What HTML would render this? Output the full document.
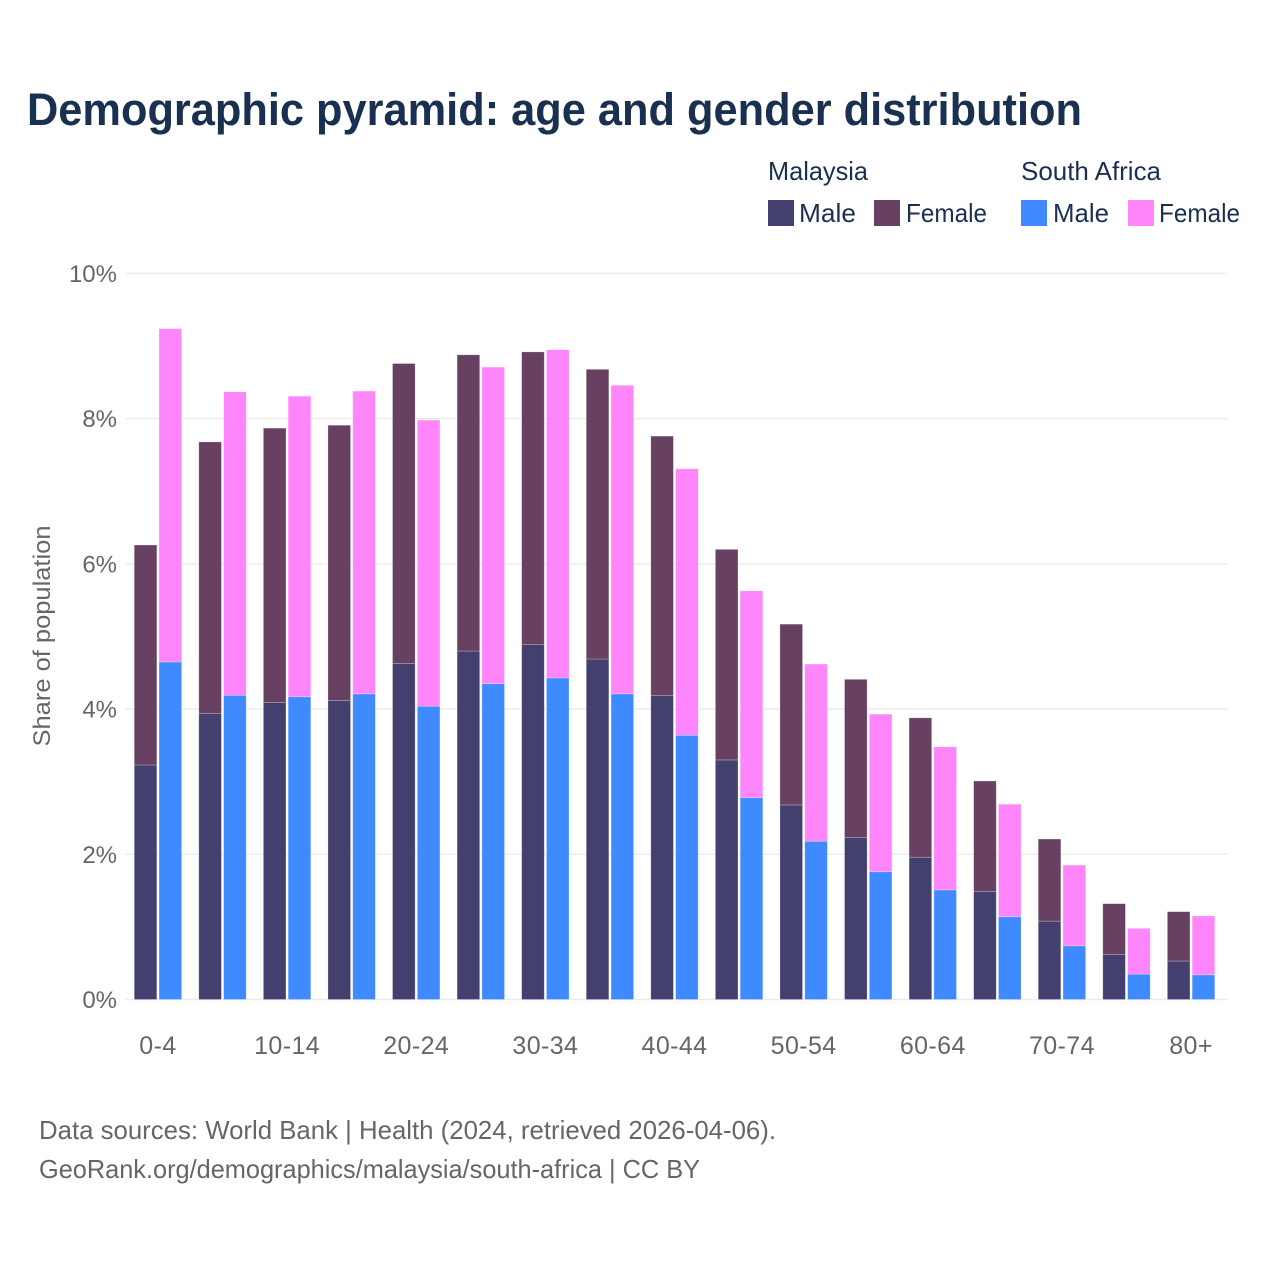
<!DOCTYPE html>
<html>
<head>
<meta charset="utf-8">
<title>Demographic pyramid</title>
<style>
html,body{margin:0;padding:0;background:#fff;}
svg{display:block;}
text{font-family:"Liberation Sans",sans-serif;}
</style>
</head>
<body>
<svg id="chart" width="1280" height="1280" viewBox="0 0 1280 1280" xmlns="http://www.w3.org/2000/svg">
  <rect x="0" y="0" width="1280" height="1280" fill="#ffffff"/>
  <text x="27" y="125" font-size="45" font-weight="700" fill="#1a3050" textLength="1055" lengthAdjust="spacingAndGlyphs">Demographic pyramid: age and gender distribution</text>

  <g font-size="26" fill="#1a3050">
    <text x="768" y="180" textLength="100" lengthAdjust="spacingAndGlyphs">Malaysia</text>
    <rect x="768" y="200" width="26" height="26" fill="#434070"/>
    <text x="799" y="222" textLength="57" lengthAdjust="spacingAndGlyphs">Male</text>
    <rect x="874" y="200" width="26" height="26" fill="#674062"/>
    <text x="906" y="222" textLength="81" lengthAdjust="spacingAndGlyphs">Female</text>
    <text x="1021" y="180" textLength="140" lengthAdjust="spacingAndGlyphs">South Africa</text>
    <rect x="1021" y="200" width="26" height="26" fill="#408aff"/>
    <text x="1053" y="222" textLength="56" lengthAdjust="spacingAndGlyphs">Male</text>
    <rect x="1128" y="200" width="26" height="26" fill="#ff85fa"/>
    <text x="1159" y="222" textLength="81" lengthAdjust="spacingAndGlyphs">Female</text>
  </g>

  <g id="grid"></g>
  <g id="yticks"></g>
  <g id="bars"></g>
  <g id="xticks"></g>

  <text transform="translate(50 636) rotate(-90)" text-anchor="middle" font-size="24" fill="#666666" textLength="221" lengthAdjust="spacingAndGlyphs">Share of population</text>

  <text x="39" y="1139" font-size="26" fill="#666666" textLength="737" lengthAdjust="spacingAndGlyphs">Data sources: World Bank | Health (2024, retrieved 2026-04-06).</text>
  <text x="39" y="1178" font-size="26" fill="#666666" textLength="661" lengthAdjust="spacingAndGlyphs">GeoRank.org/demographics/malaysia/south-africa | CC BY</text>
</svg>
<script>
var categories = ["0-4","5-9","10-14","15-19","20-24","25-29","30-34","35-39","40-44","45-49","50-54","55-59","60-64","65-69","70-74","75-79","80+"];
var malaysiaMale = [3.23,3.94,4.09,4.12,4.63,4.80,4.89,4.69,4.19,3.30,2.68,2.23,1.96,1.49,1.08,0.62,0.53];
var malaysiaFemale = [3.03,3.74,3.78,3.79,4.13,4.08,4.03,3.99,3.57,2.90,2.49,2.18,1.92,1.52,1.13,0.70,0.68];
var southAfricaMale = [4.65,4.19,4.17,4.21,4.04,4.35,4.43,4.21,3.64,2.78,2.18,1.76,1.51,1.14,0.74,0.35,0.34];
var southAfricaFemale = [4.59,4.18,4.14,4.17,3.94,4.36,4.52,4.25,3.67,2.85,2.44,2.17,1.97,1.55,1.11,0.63,0.81];
var yTickValues = [0,2,4,6,8,10];
var yTickLabels = ["0%","2%","4%","6%","8%","10%"];

var NS = "http://www.w3.org/2000/svg";
var plotLeft = 125.6, plotRight = 1228, plotBottom = 999.5, plotTop = 273.5, yMax = 10;
var barWidth = 22.6, barGap = 2.2;

function yScale(v) {
  return plotBottom - (v / yMax) * (plotBottom - plotTop);
}
function xCenter(i) {
  return 157.95 + i * 64.57;
}
function make(tag, attrs, parent) {
  var el = document.createElementNS(NS, tag);
  for (var k in attrs) el.setAttribute(k, attrs[k]);
  parent.appendChild(el);
  return el;
}

var gridG = document.getElementById("grid");
var yG = document.getElementById("yticks");
yTickValues.forEach(function (v, i) {
  var line = make("line", {x1: plotLeft, x2: plotRight, y1: yScale(v), y2: yScale(v), stroke: "#ebebeb", "stroke-width": 1.4}, gridG);
  
  
  var t = make("text", {x: 117, y: yScale(v) + 8.5, "text-anchor": "end", "font-size": 24, fill: "#666666"}, yG);
  t.textContent = yTickLabels[i];
  
  
});

var barsG = document.getElementById("bars");
function drawBar(x, v0, v1, fill, name) {
  var top = yScale(v1), bottom = yScale(v0);
  var r = make("rect", {x: x, y: top, width: barWidth, height: bottom - top, fill: fill, stroke: "#ffffff", "stroke-opacity": 0.35, "stroke-width": 0.7}, barsG);
  
  
}
categories.forEach(function (c, i) {
  var cx = xCenter(i);
  var xM = cx - barGap / 2 - barWidth;
  var xS = cx + barGap / 2;
  drawBar(xM, 0, malaysiaMale[i], "#434070", "bar-malaysia-male");
  drawBar(xM, malaysiaMale[i], malaysiaMale[i] + malaysiaFemale[i], "#674062", "bar-malaysia-female");
  drawBar(xS, 0, southAfricaMale[i], "#408aff", "bar-south-africa-male");
  drawBar(xS, southAfricaMale[i], southAfricaMale[i] + southAfricaFemale[i], "#ff85fa", "bar-south-africa-female");
});

var xG = document.getElementById("xticks");
categories.forEach(function (c, i) {
  if (i % 2 !== 0) return;
  var t = make("text", {x: xCenter(i), y: 1054, "text-anchor": "middle", "font-size": 25, "letter-spacing": 0.4, fill: "#666666"}, xG);
  t.textContent = c;
  
  
});
</script>
</body>
</html>
